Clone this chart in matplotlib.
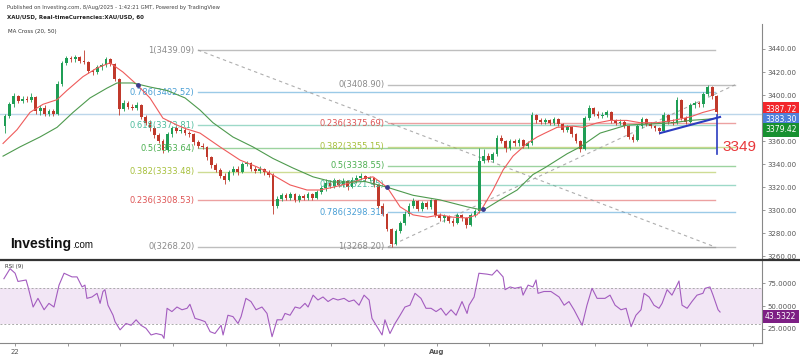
import matplotlib
matplotlib.use("Agg")
import matplotlib.pyplot as plt
from matplotlib.lines import Line2D
import matplotlib.transforms as mtransforms
import numpy as np

# ---------------- DATA (2-hour candles, hour 0 = first candle) ----------------
first_open = 3373
closes = [3382, 3392, 3399, 3395, 3397, 3396, 3398, 3386, 3389, 3384,
          3386, 3384, 3410, 3428, 3432, 3431, 3433, 3430, 3429, 3421,
          3420, 3424, 3426, 3431, 3427, 3414, 3388, 3393, 3390, 3389,
          3391, 3381, 3376, 3371, 3365, 3360, 3352, 3366, 3371, 3369,
          3370, 3367, 3366, 3359, 3356, 3355, 3346, 3339, 3335, 3330,
          3326, 3333, 3336, 3333, 3340, 3341, 3336, 3334, 3336, 3333,
          3331, 3304, 3310, 3313, 3311, 3314, 3309, 3312, 3311, 3314,
          3311, 3316, 3319, 3324, 3321, 3326, 3322, 3325, 3320, 3326,
          3328, 3330, 3327, 3328, 3322, 3304, 3297, 3284, 3271, 3282,
          3289, 3297, 3304, 3308, 3301, 3306, 3303, 3309, 3296, 3293,
          3295, 3291, 3289, 3296, 3293, 3287, 3296, 3299, 3343, 3347,
          3344, 3349, 3363, 3360, 3354, 3360, 3358, 3361, 3356, 3358,
          3383, 3378, 3377, 3378, 3376, 3379, 3375, 3370, 3372, 3366,
          3360, 3353, 3380, 3389, 3384, 3382, 3383, 3385, 3378, 3376,
          3377, 3373, 3364, 3361, 3373, 3379, 3375, 3373, 3371, 3369,
          3383, 3377, 3376, 3396, 3380, 3377, 3391, 3393, 3392, 3401,
          3407, 3399, 3385]
highs = [3384, 3394, 3402, 3400, 3399, 3399, 3402, 3399, 3391, 3391,
         3388, 3388, 3412, 3430, 3434, 3434, 3435, 3434, 3439.09, 3430,
         3423, 3426, 3428, 3433, 3432, 3428, 3415, 3396, 3395, 3392,
         3394, 3392, 3383, 3378, 3373, 3367, 3362, 3368, 3373, 3373,
         3372, 3372, 3369, 3367, 3361, 3358, 3356, 3347, 3341, 3337,
         3332, 3335, 3338, 3338, 3342, 3343, 3342, 3338, 3338, 3337,
         3335, 3332, 3312, 3315, 3315, 3316, 3315, 3314, 3314, 3316,
         3315, 3318, 3321, 3327, 3326, 3328, 3327, 3328, 3326, 3329,
         3331, 3332, 3331, 3330, 3329, 3323, 3306, 3298, 3285, 3284,
         3291, 3299, 3306, 3311, 3309, 3308, 3308, 3310, 3310, 3298,
         3297, 3296, 3293, 3298, 3297, 3294, 3298, 3301, 3354, 3353,
         3350, 3351, 3365, 3365, 3361, 3362, 3362, 3363, 3362, 3360,
         3385, 3384, 3380, 3380, 3379, 3381, 3380, 3376, 3374, 3373,
         3367, 3361, 3382, 3391, 3390, 3386, 3385, 3387, 3386, 3379,
         3379, 3378, 3374, 3366, 3375, 3381, 3380, 3377, 3374, 3372,
         3385, 3384, 3379, 3398, 3397, 3382, 3393, 3395, 3395, 3403,
         3409, 3408, 3400]
lows = [3367, 3380, 3390, 3393, 3393, 3394, 3394, 3384, 3383, 3382,
        3382, 3382, 3383, 3408, 3426, 3429, 3429, 3428, 3427, 3419,
        3417, 3418, 3422, 3424, 3425, 3412, 3383, 3386, 3388, 3387,
        3387, 3379, 3374, 3369, 3363, 3358, 3350, 3351, 3364, 3367,
        3367, 3365, 3364, 3357, 3354, 3353, 3344, 3337, 3333, 3328,
        3323, 3325, 3331, 3331, 3332, 3338, 3334, 3332, 3332, 3331,
        3329, 3297, 3302, 3308, 3309, 3309, 3307, 3307, 3309, 3309,
        3309, 3310, 3314, 3317, 3319, 3319, 3320, 3320, 3318, 3319,
        3324, 3326, 3325, 3325, 3320, 3302, 3295, 3282, 3268.2, 3270,
        3280, 3287, 3295, 3302, 3299, 3299, 3301, 3301, 3294, 3291,
        3290, 3289, 3286, 3288, 3291, 3285, 3286, 3294, 3298, 3341,
        3342, 3342, 3347, 3358, 3351, 3352, 3356, 3356, 3354, 3354,
        3357, 3376, 3375, 3375, 3374, 3374, 3373, 3368, 3368, 3364,
        3358, 3351, 3352, 3378, 3382, 3380, 3380, 3381, 3376, 3374,
        3374, 3371, 3362, 3359, 3360, 3371, 3373, 3371, 3369, 3366,
        3368, 3375, 3374, 3375, 3378, 3375, 3376, 3389, 3390, 3390,
        3399, 3397, 3383]
bar_hours = 2

ma20_points = [(-0.9, 3358), (5.5, 3370), (11.4, 3385), (17.3, 3392), (23.7, 3396),
               (28.2, 3404), (35.5, 3416), (41.9, 3423.5), (47.8, 3428), (53.7, 3420),
               (60.1, 3409), (66.0, 3397.5), (71.9, 3380), (78.3, 3374), (82.0, 3371),
               (88.8, 3367), (97.9, 3355), (107.0, 3343.6), (114.8, 3337.6), (122.0, 3330.6),
               (129.8, 3322), (137.5, 3317.6), (143.4, 3317.6), (149.4, 3320), (158.5, 3324.5),
               (163.9, 3328), (167.6, 3329), (174.0, 3320), (179.9, 3303), (185.8, 3296),
               (192.2, 3294), (198.1, 3296), (204.0, 3294), (210.4, 3293.3), (214.9, 3296),
               (217.7, 3303), (222.2, 3317.6), (226.8, 3335), (231.3, 3347), (237.7, 3358),
               (242.3, 3363.6), (245.9, 3367), (251.4, 3372), (258.7, 3373), (263.2, 3372),
               (269.6, 3375.8), (275.5, 3378), (283.2, 3378), (289.2, 3376), (296.9, 3376),
               (304.2, 3378), (311.9, 3381), (317.9, 3385), (323.3, 3387.72)]
ma50_points = [(-0.9, 3347), (6.8, 3355), (15.9, 3363.6), (23.7, 3372), (31.0, 3385),
               (38.7, 3397.5), (46.4, 3406), (51.0, 3410.5), (58.3, 3410.5), (66.0, 3407),
               (73.8, 3404), (82.0, 3397.5), (88.8, 3387), (94.7, 3376), (103.8, 3363.6),
               (112.9, 3355), (122.0, 3345), (131.1, 3336.7), (140.3, 3329), (149.4, 3324.5),
               (158.5, 3324.5), (163.9, 3325), (174.0, 3320), (185.8, 3313), (198.1, 3309),
               (210.4, 3303), (217.7, 3300), (225.4, 3309), (233.2, 3317.6), (240.4, 3331),
               (245.9, 3337), (255.9, 3349), (261.9, 3355), (271.0, 3367), (283.2, 3374),
               (295.1, 3375), (304.2, 3376), (311.9, 3378), (322.4, 3379.42)]
cross_points = [(60.6, 3409), (174.0, 3320), (217.7, 3301)]

rsi_points = [(-0.5, 80), (2.3, 91), (4.6, 86), (5.9, 77), (9.6, 78.6), (10.5, 71), (12.8, 49),
              (15.0, 58.5), (17.8, 46), (20.0, 53), (22.3, 49), (24.6, 73), (26.9, 86), (30.5, 82),
              (32.8, 82), (35.1, 71), (36.4, 73), (37.3, 58.5), (39.6, 60), (41.9, 64), (43.3, 53),
              (44.6, 66), (45.5, 68), (46.9, 51), (49.2, 40), (50.1, 33), (52.4, 24), (55.1, 31),
              (57.4, 29), (59.7, 35), (61.9, 29), (64.2, 25.7), (66.5, 18.4), (68.8, 20), (71.5, 18.4),
              (72.4, 14.7), (73.8, 47.6), (76.0, 44), (78.3, 49), (80.6, 46), (82.9, 47.6), (84.2, 52),
              (86.5, 36.6), (88.8, 35), (91.1, 33), (93.4, 22), (95.6, 20), (98.4, 29), (99.3, 18.4),
              (101.5, 40), (103.8, 38.5), (106.1, 31), (107.5, 38.5), (109.7, 58.5), (112.0, 55),
              (114.3, 46), (117.0, 49), (119.3, 42), (121.6, 16.5), (123.9, 35), (126.1, 35),
              (127.5, 42), (129.8, 40), (132.1, 49), (134.3, 47.6), (136.6, 53), (138.0, 49),
              (140.3, 62), (142.5, 56.7), (144.8, 60), (147.1, 55), (149.4, 58.5), (151.6, 56.7),
              (154.4, 58.5), (156.6, 55), (158.9, 56.7), (161.2, 51), (163.5, 62), (165.8, 56.7),
              (167.1, 36.6), (169.4, 27.5), (171.7, 18.4), (173.0, 35), (175.3, 20), (177.6, 31),
              (179.9, 40), (182.1, 49), (184.4, 51), (186.7, 64), (189.4, 58.5), (191.7, 47.6),
              (194.0, 47.6), (196.3, 44), (198.5, 47.6), (200.8, 40), (203.1, 46), (205.4, 40),
              (208.1, 55), (210.4, 42), (211.3, 51), (213.6, 60), (215.8, 86), (219.5, 85),
              (221.8, 84), (224.0, 89.6), (226.8, 82), (227.7, 68), (230.0, 71), (232.2, 69.5),
              (235.0, 71), (235.9, 62), (238.2, 73), (240.4, 71), (241.8, 78.6), (242.7, 64),
              (245.4, 66), (248.6, 66), (252.3, 60), (254.6, 51), (256.8, 55), (259.1, 46),
              (262.8, 29), (265.0, 51), (267.3, 69.5), (269.6, 58.5), (273.2, 58.5), (275.5, 62),
              (277.8, 51), (280.5, 46), (282.8, 47.6), (285.1, 27.5), (287.3, 40), (289.6, 46),
              (291.0, 64), (293.3, 60), (295.5, 51), (297.8, 47.6), (299.2, 53), (301.5, 68),
              (303.7, 62), (305.6, 71), (306.9, 77.5), (308.3, 51), (310.6, 47.6), (312.8, 55),
              (315.1, 62), (317.8, 64), (318.8, 69.5), (321.0, 71), (322.4, 62), (324.7, 46),
              (325.6, 43.5322)]

fib_levels = [1, 0.786, 0.618, 0.5, 0.382, 0.236, 0]
fib1_low, fib1_high = 3268.20, 3439.09     # level 0 at low
fib1_hours = (87.9, 323.3)
fib2_high, fib2_low = 3408.90, 3268.20     # level 0 at high
fib2_hours = (174.4, 332.4)
hline_price = 3383.30
trend_points = [(298.3, 3367), (325.6, 3381)]
target_hour = 324.2
target_from, target_to = 3382.6, 3349
tag_values = [3387.72, 3383.30, 3379.42]
tag_colors = ["#f2262b", "#4f7fd9", "#17902f"]
rsi_last = 43.5322

day_labels = ["22", "23", "24", "25", "28", "29", "30", "31", "Aug", "4", "5", "6", "7", "8", "11"]
shown_days = ["22", "Aug"]
first_day_hour = 4.55
price_ticks = [3260, 3280, 3300, 3320, 3340, 3360, 3380, 3400, 3420, 3440]
hidden_price_ticks = [3380]          # covered by the price tags in the reference
rsi_ticks = [25, 50, 75]

# ---------------- STYLE ----------------
W, H = 800, 359
fig = plt.figure(figsize=(W / 100, H / 100), dpi=100)
fig.patch.set_facecolor("white")

def fy(py):
    return 1 - py / H

ax_right = 762 / W
ax = fig.add_axes([0, fy(259), ax_right, (259 - 24) / H])
rax = fig.add_axes([0, fy(343), ax_right, (343 - 260) / H], sharex=ax)

xlim = (-2.28, 344.7)
ax.set_xlim(*xlim)
ax.set_ylim(3257.7, 3461.7)
rax.set_ylim(9.6, 100.5)

fib_colors = {1: "#8a8a8a", 0.786: "#4a9fd5", 0.618: "#4dbb9c", 0.5: "#4caf50",
              0.382: "#a7c03d", 0.236: "#de5555", 0: "#8a8a8a"}

# horizontal price line
ax.axhline(hline_price, color="#bcd6ea", lw=1.0, zorder=1)

# fib 1
for lvl in fib_levels:
    p = fib1_low + lvl * (fib1_high - fib1_low)
    c = fib_colors[lvl]
    ax.plot(fib1_hours, [p, p], color=c, lw=1.0, alpha=0.55, zorder=1)
    ax.annotate(f"{lvl:g}({p:.2f})", (fib1_hours[0], p), xytext=(-2.5, 0),
                textcoords="offset points", ha="right", va="center",
                fontsize=6, color=c, zorder=5)
ax.plot(fib1_hours, [fib1_high, fib1_low], color="#9a9a9a", lw=0.8,
        ls=(0, (3, 3)), alpha=0.8, zorder=1)

# fib 2
for lvl in fib_levels:
    p = fib2_high - lvl * (fib2_high - fib2_low)
    c = fib_colors[lvl]
    ax.plot(fib2_hours, [p, p], color=c, lw=1.0, alpha=0.55, zorder=1)
    ax.annotate(f"{lvl:g}({p:.2f})", (fib2_hours[0], p), xytext=(-2.5, 0),
                textcoords="offset points", ha="right", va="center",
                fontsize=6, color=c, zorder=5)
ax.plot(fib2_hours, [fib2_low, fib2_high], color="#9a9a9a", lw=0.8,
        ls=(0, (3, 3)), alpha=0.8, zorder=1)

# candles
closes_a = np.array(closes, float)
opens_a = np.concatenate([[first_open], closes_a[:-1]])
highs_a = np.array(highs, float)
lows_a = np.array(lows, float)
hours = np.arange(len(closes_a)) * bar_hours
up = closes_a >= opens_a
colors = np.where(up, "#1f9e55", "#c0392b")
ax.vlines(hours, lows_a, highs_a, colors=colors, lw=0.6, zorder=3)
body_bottom = np.minimum(opens_a, closes_a)
body_h = np.maximum(np.abs(closes_a - opens_a), 0.6)
ax.bar(hours, body_h, bottom=body_bottom, width=1.25, color=colors, lw=0, zorder=4)

# moving averages
m20 = np.array(ma20_points)
m50 = np.array(ma50_points)
ax.plot(m20[:, 0], m20[:, 1], color="#ef5b5b", lw=0.8, zorder=5)
ax.plot(m50[:, 0], m50[:, 1], color="#4e9a4e", lw=0.8, zorder=5)
cp = np.array(cross_points)
ax.scatter(cp[:, 0], cp[:, 1], s=6, color="#3b3b8f", zorder=6)

# trendline & target
tp = np.array(trend_points)
ax.plot(tp[:, 0], tp[:, 1], color="#2b3cc0", lw=1.5, zorder=7)
ax.plot([target_hour, target_hour], [target_from, target_to], color="#2b3cc0", lw=1.2, zorder=7)
ax.annotate(f"{target_to:g}", (target_hour, target_to), xytext=(4, 0), textcoords="offset points",
            ha="left", va="bottom", fontsize=11, color="#e8373a", family="Liberation Sans", zorder=8)

# right price axis
for a in (ax, rax):
    for s in ("left", "top"):
        a.spines[s].set_visible(False)
    a.spines["right"].set_color("#888888")
    a.spines["right"].set_linewidth(0.8)
    a.yaxis.tick_right()
    a.tick_params(axis="y", length=2.5, width=0.6, color="#888888", labelsize=5,
                  labelcolor="#555555", pad=1.5)
ax.spines["bottom"].set_visible(False)
ax.set_yticks(price_ticks)
ax.set_yticklabels(["" if v in hidden_price_ticks else f"{v:.2f}" for v in price_ticks])
ax.tick_params(axis="x", bottom=False, labelbottom=False)

blend = mtransforms.blended_transform_factory(ax.transAxes, ax.transData)
tag_pos = []
for v in tag_values:
    pos = v if not tag_pos else min(v, tag_pos[-1] - 9.0)
    tag_pos.append(pos)
for v, pos, c in zip(tag_values, tag_pos, tag_colors):
    ax.text(1.004, pos, f"{v:.2f}", transform=blend, ha="left", va="center", fontsize=5.5,
            color="white", clip_on=False, zorder=10,
            bbox=dict(boxstyle="square,pad=0.3", fc=c, ec="none"))

# separator line
fig.add_artist(Line2D([0, 1], [fy(259.5), fy(259.5)], transform=fig.transFigure,
                      color="#333333", lw=1.6))

# RSI panel
r = np.array(rsi_points)
rax.axhspan(30, 70, color="#f2e6f5", lw=0, zorder=0)
for lvl in (30, 70):
    rax.axhline(lvl, color="#aaaaaa", lw=0.7, ls=(0, (2, 2)), zorder=1)
rax.plot(r[:, 0], r[:, 1], color="#a35cbf", lw=0.8, zorder=3)
rax.set_yticks(rsi_ticks)
rax.set_yticklabels([f"{v:.4f}" for v in rsi_ticks])
rax.spines["bottom"].set_color("#888888")
rax.spines["bottom"].set_linewidth(0.8)
rblend = mtransforms.blended_transform_factory(rax.transAxes, rax.transData)
rax.text(1.004, rsi_last, f"{rsi_last:.4f}", transform=rblend, ha="left", va="top",
         fontsize=5.5, color="white", clip_on=False, zorder=10,
         bbox=dict(boxstyle="square,pad=0.3", fc="#7d1f84", ec="none"))
day_hours = [first_day_hour + 24 * k for k in range(len(day_labels))]
rax.set_xticks(day_hours)
rax.set_xticklabels([d if d in shown_days else "" for d in day_labels])
rax.tick_params(axis="x", length=2.5, width=0.6, color="#888888", labelsize=5,
                labelcolor="#555555", pad=2)
for lbl in rax.get_xticklabels():
    if lbl.get_text() == "Aug":
        lbl.set_fontweight("bold")
rax.set_xlim(*xlim)
rax.text(0.006, 0.92, "RSI (9)", transform=rax.transAxes, fontsize=4, color="#333333",
         va="center")

# header
fig.text(7 / W, fy(7), "Published on Investing.com, 8/Aug/2025 - 1:42:21 GMT, Powered by TradingView",
         fontsize=3.8, color="#444444", va="center")
fig.text(7 / W, fy(17), "XAU/USD, Real-timeCurrencies:XAU/USD, 60", fontsize=4,
         fontweight="bold", color="#222222", va="center")
fig.text(8 / W, fy(32), "MA Cross (20, 50)", fontsize=4, color="#333333", va="center")

# logo
fig.text(10 / W, fy(244), "Investing", fontsize=10, fontweight="bold", color="#111111",
         va="center", family="Liberation Sans")
fig.text(72 / W, fy(245), ".com", fontsize=7, color="#111111", va="center",
         family="Liberation Sans")

fig.savefig("out.png", dpi=100, facecolor="white")
